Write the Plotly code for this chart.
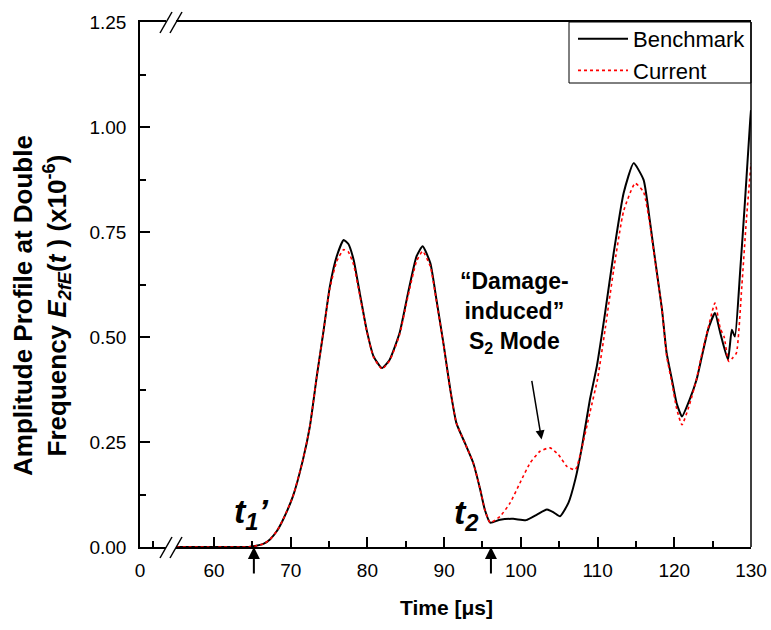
import plotly.graph_objects as go

# ---- data ----
t_bench = [55.1, 60, 64.5, 65.5, 66.5, 67.3, 68.2, 69.0, 70.3, 71.6, 72.5, 73.4, 74.3, 75.1, 76.0, 76.9,
           77.5, 78.2, 79.0, 79.9, 80.8, 81.9, 82.9, 84.2, 85.3, 86.4, 87.2, 88.2, 89.0, 89.9, 90.8,
           91.6, 92.7, 93.8, 94.7, 95.3, 96.0, 97.3, 99.0, 100.7, 102.1, 103.4, 104.3, 105.1, 106.2,
           107.1, 107.9, 109.0, 109.9, 111.0, 112.1, 113.4, 114.7, 116.0, 116.8, 117.5, 118.4, 119.0,
           119.7, 120.3, 121.0, 122.0, 122.9, 123.6, 124.4, 125.3, 126.0, 127.0, 127.5, 127.9, 128.6,
           129.2, 129.9, 130.0]
v_bench = [0, 0, 0, 0.003, 0.008, 0.018, 0.038, 0.065, 0.121, 0.208, 0.287, 0.406, 0.517, 0.620, 0.692, 0.731,
           0.722, 0.684, 0.605, 0.517, 0.454, 0.426, 0.446, 0.510, 0.605, 0.692, 0.716, 0.676, 0.589, 0.486, 0.375,
           0.295, 0.248, 0.200, 0.137, 0.089, 0.058, 0.065, 0.067, 0.064, 0.077, 0.089, 0.082, 0.073, 0.105,
           0.161, 0.232, 0.351, 0.430, 0.560, 0.700, 0.843, 0.914, 0.874, 0.779, 0.684, 0.565, 0.462,
           0.398, 0.343, 0.311, 0.351, 0.398, 0.454, 0.517, 0.557, 0.509, 0.446, 0.517, 0.501, 0.660,
           0.819, 1.017, 1.040]

t_curr = [55.1, 60, 64.5, 65.5, 66.5, 67.3, 68.2, 69.0, 70.3, 71.6, 72.5, 73.4, 74.3, 75.1, 76.0, 76.9,
          77.5, 78.2, 79.0, 79.9, 80.8, 81.9, 82.9, 84.2, 85.3, 86.4, 87.2, 88.2, 89.0, 89.9, 90.8,
          91.6, 92.7, 93.8, 94.7, 95.3, 96.0, 97.3, 98.6, 99.9, 101.2, 102.5, 103.8, 104.9, 106.0,
          107.1, 107.9, 109.0, 110.0, 111.0, 112.1, 113.4, 114.9, 116.0, 116.8, 117.5, 118.4, 119.0,
          119.7, 120.3, 121.0, 122.0, 122.9, 123.6, 124.4, 125.3, 126.0, 126.5, 127.1, 127.6, 128.1,
          128.8, 129.4, 130.0]
v_curr = [0, 0, 0, 0.003, 0.008, 0.018, 0.038, 0.065, 0.121, 0.208, 0.287, 0.406, 0.517, 0.615, 0.680, 0.708,
          0.703, 0.672, 0.600, 0.515, 0.452, 0.424, 0.444, 0.506, 0.598, 0.680, 0.704, 0.668, 0.585, 0.484, 0.374,
          0.295, 0.248, 0.200, 0.137, 0.089, 0.058, 0.073, 0.105, 0.153, 0.200, 0.228, 0.236, 0.220, 0.192,
          0.184, 0.232, 0.320, 0.400, 0.520, 0.660, 0.800, 0.866, 0.845, 0.770, 0.680, 0.565, 0.455,
          0.390, 0.330, 0.291, 0.340, 0.400, 0.460, 0.520, 0.581, 0.520, 0.500, 0.442, 0.450, 0.462,
          0.620, 0.779, 0.914]

x_ticks = [60, 70, 80, 90, 100, 110, 120, 130]
y_ticks = [0.0, 0.25, 0.5, 0.75, 1.0, 1.25]
t1_mark = 65.2
t2_mark = 96.1
s2_point = (102.7, 0.256)

# ---- layout constants (pixels) ----
W, H = 771, 630
L, R, T, B = 140, 20, 22, 83
PW = W - L - R
PH = H - T - B


def px(x):
    return (x - L) / PW


def py(y):
    return (H - B - y) / PH


TICK_FONT = dict(family="Arial, Liberation Sans", size=19, color="black")

fig = go.Figure()
fig.add_trace(go.Scatter(x=t_bench, y=v_bench, mode="lines", name="Benchmark",
                         line=dict(color="black", width=2, shape="spline", smoothing=0.5),
                         xaxis="x", yaxis="y"))
fig.add_trace(go.Scatter(x=t_curr, y=v_curr, mode="lines", name="Current",
                         line=dict(color="red", width=1.6, dash="dot", shape="spline", smoothing=0.5),
                         xaxis="x", yaxis="y"))
fig.add_trace(go.Scatter(x=[], y=[], xaxis="x2", yaxis="y", showlegend=False))

axis_common = dict(showline=True, linecolor="black", linewidth=1.5, ticks="inside",
                   tickcolor="black", tickwidth=1.5, ticklen=10, showgrid=False, zeroline=False,
                   tickfont=TICK_FONT, automargin=False)

fig.update_layout(
    width=W, height=H,
    margin=dict(l=L, r=R, t=T, b=B, autoexpand=False),
    paper_bgcolor="white", plot_bgcolor="white",
    font=dict(family="Arial, Liberation Sans", color="black"),
    xaxis=dict(domain=[px(176), 1], range=[55.05, 130], tickvals=x_ticks,
               minor=dict(dtick=5, tick0=0, ticks="inside", ticklen=6, tickcolor="black", tickwidth=1.5),
               mirror=True, anchor="y", ticklabelstandoff=5, **axis_common),
    xaxis2=dict(domain=[0, px(166)], range=[0, 4], tickvals=[0], ticktext=["0"],
                minor=dict(tickvals=[2], ticks="inside", ticklen=6, tickcolor="black", tickwidth=1.5),
                mirror=True, anchor="y", ticklabelstandoff=5, **axis_common),
    yaxis=dict(domain=[0, 1], range=[0, 1.25], tickvals=y_ticks, tickformat=".2f",
               minor=dict(dtick=0.125, tick0=0, ticks="inside", ticklen=6, tickcolor="black", tickwidth=1.5),
               anchor="x2", ticklabelstandoff=8, **axis_common),
    legend=dict(x=1, y=1 + 4 / PH, xanchor="right", yanchor="top", borderwidth=0,
                bgcolor="rgba(0,0,0,0)", font=dict(size=22, family="Arial, Liberation Sans"),
                itemwidth=50, tracegroupgap=0),
)

shapes = []
# legend frame
shapes.append(dict(type="rect", xref="paper", yref="paper", x0=px(569), x1=1, y0=py(83), y1=1,
                   line=dict(color="black", width=1), fillcolor="white", layer="above"))
# right border
shapes.append(dict(type="line", xref="paper", yref="paper", x0=1, x1=1, y0=0, y1=1,
                   line=dict(color="black", width=1.5), layer="above"))
# axis-break slashes (bottom and top)
for (ya, yb) in [(558, 537), (33, 12)]:
    for (xa, xb) in [(160, 172), (170, 182)]:
        shapes.append(dict(type="line", xref="paper", yref="paper", x0=px(xa), x1=px(xb),
                           y0=py(ya), y1=py(yb), line=dict(color="black", width=1.5)))
fig.update_layout(shapes=shapes)

ann = []
ann.append(dict(xref="paper", yref="paper", x=px(41), y=py(306), textangle=-90,
                text="Amplitude Profile at Double<br>Frequency <i>E</i><sub><i>2fE</i></sub>(<i>t</i> ) (x10<sup>-6</sup>)",
                showarrow=False, xanchor="center", yanchor="middle",
                font=dict(size=26, family="Arial, Liberation Sans", color="black", weight="bold")))
ann.append(dict(xref="paper", yref="paper", x=px(446), y=py(607), text="<b>Time [μs]</b>",
                showarrow=False, xanchor="center", yanchor="middle",
                font=dict(size=21, family="Arial, Liberation Sans", color="black")))
ann.append(dict(xref="paper", yref="paper", x=px(514), y=py(312),
                text="<b>“Damage-<br>induced”<br>S<sub>2</sub> Mode</b>",
                showarrow=False, xanchor="center", yanchor="middle",
                font=dict(size=23, family="Arial, Liberation Sans", color="black")))
ann.append(dict(xref="paper", yref="paper", x=px(251), y=py(513),
                text="<b><i>t<sub>1</sub>’</i></b>",
                showarrow=False, xanchor="center", yanchor="middle",
                font=dict(size=34, family="Arial, Liberation Sans", color="black")))
ann.append(dict(xref="paper", yref="paper", x=px(466), y=py(514),
                text="<b><i>t<sub>2</sub></i></b>",
                showarrow=False, xanchor="center", yanchor="middle",
                font=dict(size=34, family="Arial, Liberation Sans", color="black")))
for tm in (t1_mark, t2_mark):
    ann.append(dict(xref="x", yref="y", x=tm, y=0, ax=0, ay=28, text="", showarrow=True,
                    arrowhead=2, arrowsize=1.2, arrowwidth=2, arrowcolor="black", standoff=0))
ann.append(dict(xref="x", yref="y", x=s2_point[0], y=s2_point[1], ax=-10, ay=-60, text="",
                showarrow=True, arrowhead=2, arrowsize=1.2, arrowwidth=1.5, arrowcolor="black", standoff=0))
fig.update_layout(annotations=ann)

fig.write_html("out.html")
